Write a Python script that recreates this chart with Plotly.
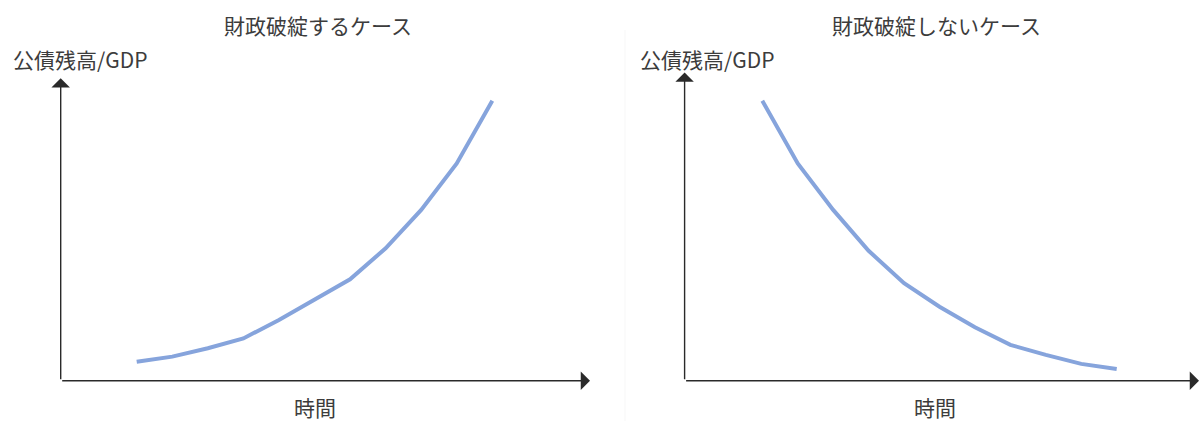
import plotly.graph_objects as go

# ---- data ----
time_idx = [1, 2, 3, 4, 5, 6, 7, 8, 9, 10, 11]
debt_default = [6.8, 8.6, 11.6, 15.1, 21.7, 28.8, 36.2, 47.3, 61.0, 77.6, 100.0]
debt_sustain = [100.0, 77.6, 61.0, 46.4, 34.8, 26.4, 19.1, 12.8, 9.2, 6.0, 4.2]

title_left = "財政破綻するケース"
title_right = "財政破綻しないケース"
ylabel = "公債残高/GDP"
xlabel = "時間"

# ---- layout geometry (pixels) ----
W, H = 1200, 421
FONT = "Noto Sans CJK JP"
TXT = "#3c3c3c"
LINE = "#86a4dc"
AX = "#2a2a2a"


def rng(v_a, p_a, v_b, p_b, total, flip=False):
    """Axis range so that value v_a sits at pixel p_a and v_b at p_b."""
    s = (p_b - p_a) / (v_b - v_a)
    if not flip:
        lo = v_a - p_a / s
        hi = v_a + (total - p_a) / s
    else:
        lo = v_a - (total - p_a) / (-s)
        hi = v_a + p_a / (-s)
    return [lo, hi]


fig = go.Figure()
fig.add_trace(go.Scatter(x=time_idx, y=debt_default, mode="lines",
                         line=dict(color=LINE, width=4), xaxis="x", yaxis="y",
                         showlegend=False, hoverinfo="skip"))
fig.add_trace(go.Scatter(x=time_idx, y=debt_sustain, mode="lines",
                         line=dict(color=LINE, width=4), xaxis="x2", yaxis="y2",
                         showlegend=False, hoverinfo="skip"))

yr = rng(0, 380.7, 100, 100.7, H, flip=True)
common = dict(visible=False, fixedrange=True)
fig.update_layout(
    width=W, height=H,
    margin=dict(l=0, r=0, t=0, b=0),
    paper_bgcolor="white", plot_bgcolor="rgba(0,0,0,0)",
    xaxis=dict(domain=[0, 1], range=rng(1, 136.7, 11, 492.3, W), anchor="y", **common),
    yaxis=dict(domain=[0, 1], range=yr, anchor="x", **common),
    xaxis2=dict(domain=[0, 1], range=rng(1, 762.3, 11, 1116.7, W), anchor="y2",
                overlaying="x", **common),
    yaxis2=dict(domain=[0, 1], range=yr, anchor="x2", overlaying="y", **common),
)

def px(x):
    return x / W

def py(y):
    return 1 - y / H

ann = []
def arrow(tip_x, tip_y, tail_x, tail_y):
    ann.append(dict(x=px(tip_x), y=py(tip_y), xref="paper", yref="paper",
                    ax=tail_x - tip_x, ay=tail_y - tip_y, axref="pixel", ayref="pixel",
                    text="", showarrow=True, arrowhead=1, arrowsize=2.2,
                    arrowwidth=1.4, arrowcolor=AX))

# axes with arrows
arrow(590, 380.7, 60.7, 380.7)
arrow(60.7, 78.3, 60.7, 380.7)
arrow(1211, 380.7, 684.6, 380.7)
arrow(684.6, 72.5, 684.6, 380.7)

def label(text, cx, cy):
    ann.append(dict(x=px(cx), y=py(cy), xref="paper", yref="paper", text=text,
                    showarrow=False, xanchor="center", yanchor="middle",
                    font=dict(family=FONT, size=21, color=TXT)))

label(title_left, 318, 25)
label(title_right, 936, 25)
label(ylabel, 80, 59)
label(ylabel, 706.5, 58.5)
label(xlabel, 315, 407)
label(xlabel, 935, 407)

fig.update_layout(annotations=ann)

# faint frame edge of the pasted right-hand picture
fig.add_shape(type="line", xref="paper", yref="paper",
              x0=px(625), x1=px(625), y0=py(30), y1=0,
              line=dict(color="#f7f7f7", width=1))

fig.write_html("out.html", config={"displayModeBar": False})
